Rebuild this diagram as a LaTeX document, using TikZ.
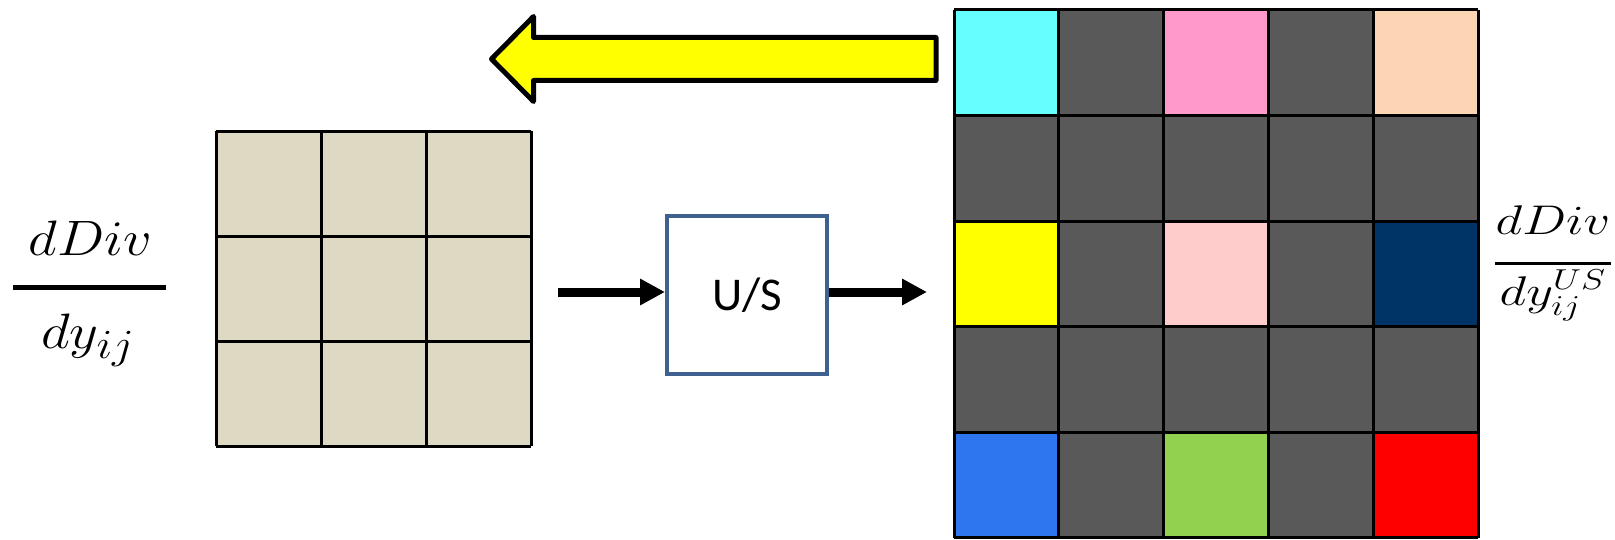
\documentclass[tikz,border=0pt]{standalone}
\usepackage{graphicx}
\usepackage{fontspec}
\newfontfamily\carlito{Carlito}
\usetikzlibrary{arrows.meta}
\definecolor{cgr}{HTML}{595959}
\definecolor{ccy}{HTML}{66FFFF}
\definecolor{cpk}{HTML}{FF99CC}
\definecolor{cpe}{HTML}{FCD5B5}
\definecolor{cye}{HTML}{FFFF00}
\definecolor{clp}{HTML}{FFCCCC}
\definecolor{cnv}{HTML}{003366}
\definecolor{cbl}{HTML}{2E75F0}
\definecolor{cgn}{HTML}{92D050}
\definecolor{crd}{HTML}{FF0000}
\definecolor{cbeige}{HTML}{DDD9C3}
\definecolor{boxblue}{HTML}{3E6190}
\tikzset{
  gridline/.style={line width=1.5pt, black},
  flowarrow/.style={line width=4.5pt, -{Triangle[length=12.5pt,width=12.5pt]}},
  usbox/.style={draw=boxblue, line width=2pt, fill=white, minimum width=80pt, minimum height=79pt, inner sep=0pt, font=\carlito\fontsize{23.5pt}{28pt}\selectfont},
  bigmath/.style={anchor=base, inner sep=0pt, font=\fontsize{29.5pt}{34pt}\selectfont},
  smallmath/.style={anchor=base, inner sep=0pt, font=\fontsize{20pt}{24pt}\selectfont},
}
\begin{document}
\begin{tikzpicture}[x=0.5pt,y=-0.5pt]
\useasboundingbox (0,0) rectangle (1615,540);

% left 3x3 grid
\fill[cbeige] (216,131) rectangle (531,446);
\foreach \i in {0,...,3} {
  \draw[gridline] (216+105*\i,131) -- (216+105*\i,446);
  \draw[gridline] (216,131+105*\i) -- (531,131+105*\i);
}

% right 5x5 grid
\foreach \c [count=\k from 0] in {ccy,cgr,cpk,cgr,cpe, cgr,cgr,cgr,cgr,cgr, cye,cgr,clp,cgr,cnv, cgr,cgr,cgr,cgr,cgr, cbl,cgr,cgn,cgr,crd} {
  \pgfmathtruncatemacro\col{mod(\k,5)}
  \pgfmathtruncatemacro\row{div(\k,5)}
  \fill[\c] (954+104.8*\col,10+105.5*\row) rectangle ++(104.8,105.5);
}
\foreach \i in {0,...,5} {
  \draw[gridline] (954+104.8*\i,10) -- (954+104.8*\i,537.5);
  \draw[gridline] (954,10+105.5*\i) -- (1478,10+105.5*\i);
}

% yellow arrow
\draw[fill=cye, line width=2.5pt, line join=round]
  (491.5,59) -- (533.5,16.5) -- (533.5,37.5) -- (936,37.5) -- (936,80.5)
  -- (533.5,80.5) -- (533.5,101.5) -- cycle;

% U/S box and arrows
\node[usbox] (us) at (747,295) {U/S};
\coordinate (inL) at (558,292);
\coordinate (outR) at (927,292);
\draw[flowarrow] (inL) -- (inL -| us.west);
\draw[flowarrow] (us.east |- outR) -- (outR);

% left fraction
\node[bigmath] (numL) at (90.5,255) {\scalebox{1.13}[1]{$dDiv$}};
\coordinate (barLa) at (13,287.5);
\coordinate (barLb) at (166,287.5);
\draw[line width=2.25pt] (barLa) -- (barLb);
\node[bigmath] (denL) at (88,348) {\scalebox{1.13}[1]{$dy_{ij}$}};

% right fraction
\node[smallmath] (numR) at (1553,234) {\scalebox{1.26}[1]{$dDiv$}};
\coordinate (barRa) at (1495,263);
\coordinate (barRb) at (1611,263);
\draw[line width=1.5pt] (barRa) -- (barRb);
\node[smallmath] (denR) at (1553,305) {\scalebox{1.26}[1]{$dy_{ij}^{US}$}};
\end{tikzpicture}
\end{document}
